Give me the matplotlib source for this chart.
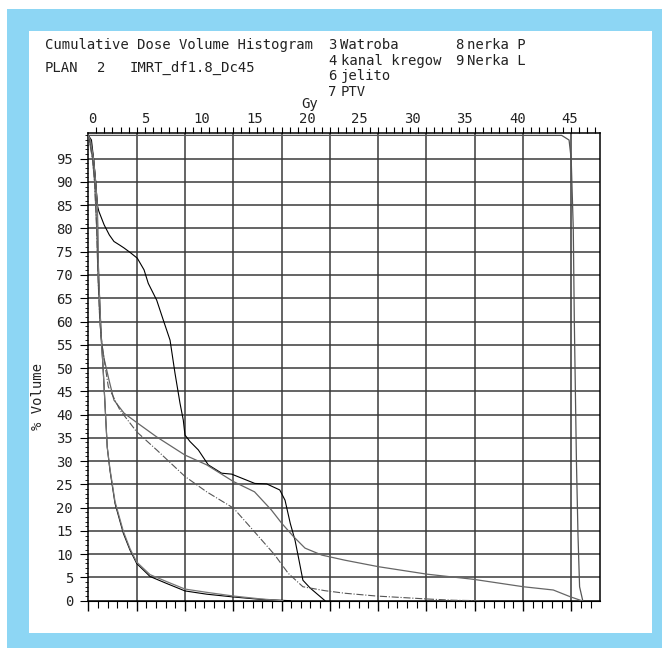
import numpy as np
import matplotlib.pyplot as plt
from matplotlib.patches import Rectangle
from matplotlib.ticker import MultipleLocator

# dose [Gy] / volume [%]
watroba_dose = [0, 0.3, 0.5, 0.7, 0.86, 1.0, 1.5, 2.0, 2.44, 3.0, 3.4, 4.0, 4.66, 5.3, 5.7, 6.5, 7.13,
                7.77, 8.24, 8.72, 9.03, 9.19, 9.67, 10.46, 11.4, 12.68, 13.63, 15.83, 16.96, 18.2,
                18.7, 19.2, 19.65, 19.96, 20.4, 21.1, 22.5]
watroba_vol = [100, 99, 95, 90, 85, 83.7, 80.8, 78.6, 77.2, 76.4, 75.8, 74.8, 73.6, 71.1, 68.2, 64.6,
               60.3, 56, 48.9, 42.4, 38.8, 35.6, 34.2, 32.4, 29.2, 27.4, 27.2, 25.2, 25.1, 23.8,
               21.6, 16.6, 13.0, 9.5, 4.4, 2.7, 0]

jelito_dose = [0, 0.1, 0.4, 0.6, 0.8, 0.92, 1.1, 1.3, 1.5, 1.97, 2.44, 3.4, 4.66, 6.5, 9.19, 11.25,
               13.8, 15.8, 17.4, 18.4, 19.5, 20.6, 22.2, 24.4, 27.6, 32.2, 36.6, 41.35, 44.2, 45.8, 46.9]
jelito_vol = [100, 99, 95, 90, 80, 70, 60, 55, 52, 47.4, 43.1, 40.3, 38.2, 35.2, 31.3, 29.2,
              25.6, 23.4, 19.5, 16.6, 13.8, 11.3, 9.8, 8.7, 7.3, 5.7, 4.6, 3.0, 2.3, 0.86, 0]

kanal_dose = [0, 0.1, 0.4, 0.6, 0.8, 0.92, 1.1, 1.3, 1.5, 1.9, 3.0, 4.6, 6.5, 9.19, 11.25, 13.8,
              15.8, 17.7, 19.0, 20.4, 22.5, 24.4, 27.4, 32.2, 34.7, 37.2]
kanal_vol = [100, 99, 95, 90, 80, 70, 60, 55, 52, 46, 41, 36.3, 32.4, 26.7, 23.4, 19.9,
             14.8, 9.9, 5.9, 3.0, 2.15, 1.6, 1.0, 0.37, 0.1, 0]

nerka_p_dose = [0, 0.2, 0.5, 0.7, 0.86, 0.92, 1.0, 1.24, 1.4, 1.8, 2.06, 2.54, 3.33, 3.96, 4.6,
                5.87, 7.45, 9.19, 11.25, 13.8, 16.3, 19.2]
nerka_p_vol = [100, 99, 95, 90, 85, 75, 69, 56, 50.3, 33, 28, 20.9, 14.5, 10.9, 8.0,
               5.2, 3.7, 2.1, 1.4, 0.8, 0.3, 0]

nerka_l_dose = [0, 0.2, 0.5, 0.7, 0.86, 0.92, 1.0, 1.24, 1.4, 1.8, 2.06, 2.54, 3.33, 3.96, 4.6,
                5.87, 7.45, 9.19, 11.25, 13.8, 16.3, 18.5]
nerka_l_vol = [100, 99, 95, 90, 85, 75, 69, 56, 50.3, 33, 28.3, 21.3, 14.9, 11.2, 8.3,
               5.6, 4.1, 2.5, 1.8, 1.0, 0.4, 0]

ptv_dose = [0, 45.0, 45.7, 45.9, 46.1, 46.2, 46.4, 46.55, 46.7, 47.0]
ptv_vol = [100, 100, 99.0, 95, 80, 60, 30, 14, 3, 0]

x_ticks = [0, 5, 10, 15, 20, 25, 30, 35, 40, 45]
y_ticks = list(range(0, 100, 5))

W, H = 662, 648
fig = plt.figure(figsize=(W / 100, H / 100), dpi=100)

# light blue frame round the printout
blue = '#8dd6f4'
fig.patches.append(Rectangle((7 / W, 0), 655 / W, 639 / H, transform=fig.transFigure,
                             facecolor=blue, edgecolor='none', zorder=-2))
fig.patches.append(Rectangle((29 / W, 15 / H), 623 / W, 602 / H, transform=fig.transFigure,
                             facecolor='white', edgecolor='none', zorder=-1))

ax = fig.add_axes([88.3 / W, 1 - 600.7 / H, 511.7 / W, 467.4 / H])
ax.set_facecolor('white')

grid_step = 48.3 / 10.52
ax.set_xlim(0, 511.7 / 10.52)
ax.set_ylim(0, 100.45)

for k in range(1, 11):
    ax.axvline(k * grid_step, color='#3a3a3a', lw=1.1, zorder=1)
for v in y_ticks[1:]:
    ax.axhline(v, color='#3a3a3a', lw=1.1, zorder=1)

ax.plot(watroba_dose, watroba_vol, color='black', lw=0.8, zorder=3)
ax.plot(jelito_dose, jelito_vol, color='#666666', lw=0.9, zorder=3)
ax.plot(kanal_dose, kanal_vol, color='#555555', lw=0.8, ls='-.', zorder=3)
ax.plot(nerka_p_dose, nerka_p_vol, color='black', lw=0.8, zorder=3)
ax.plot(nerka_l_dose, nerka_l_vol, color='#777777', lw=0.9, zorder=3)
ax.plot(ptv_dose, ptv_vol, color='#555555', lw=0.9, zorder=3)

for s in ax.spines.values():
    s.set_linewidth(1.1)

mono = 'DejaVu Sans Mono'

# top axis: dose labels, small ticks
ax.set_xticks(x_ticks)
ax.set_xticklabels([str(t) for t in x_ticks], family=mono, fontsize=10, ha='left', color='#222222')
ax.xaxis.set_minor_locator(MultipleLocator(grid_step / 6))
ax.tick_params(axis='x', which='major', top=True, bottom=False, labeltop=True,
               labelbottom=False, length=0, pad=5)
ax.tick_params(axis='x', which='minor', top=True, bottom=False, length=4, width=0.8)

# bottom ticks follow the grid
sec = ax.secondary_xaxis('bottom')
sec.set_xticks(np.arange(0, 11) * grid_step)
sec.xaxis.set_minor_locator(MultipleLocator(grid_step / 5))
sec.tick_params(which='major', length=7, width=1.0, labelbottom=False)
sec.tick_params(which='minor', length=5, width=0.8)

ax.set_yticks(y_ticks)
ax.set_yticklabels([str(t) for t in y_ticks], family=mono, fontsize=10, color='#222222')
ax.yaxis.set_minor_locator(MultipleLocator(1))
ax.tick_params(axis='y', which='major', length=6, width=0.8, pad=5)
ax.tick_params(axis='y', which='minor', length=2.5, width=0.6)


def ftext(x, y, s, **kw):
    fig.text(x / W, 1 - y / H, s, family=mono, fontsize=10, va='center', ha='left',
             color='#222222', **kw)


ftext(45, 45, 'Cumulative Dose Volume Histogram')
ftext(45, 68, 'PLAN')
ftext(97, 68, '2')
ftext(130, 68, 'IMRT_df1.8_Dc45')

ftext(328, 45, '3')
ftext(340, 45, 'Watroba')
ftext(328, 61, '4')
ftext(340.7, 61, 'kanal kregow')
ftext(328, 76, '6')
ftext(340.7, 76, 'jelito')
ftext(328, 92, '7')
ftext(340.7, 92, 'PTV')
ftext(455, 45, '8')
ftext(466.7, 45, 'nerka P')
ftext(455, 61, '9')
ftext(466.7, 61, 'Nerka L')

ftext(301, 104, 'Gy')
fig.text(38 / W, 1 - 397 / H, '% Volume', family=mono, fontsize=10, rotation=90,
         ha='center', va='center', color='#222222')

fig.savefig('out.png', dpi=100, facecolor='white')
